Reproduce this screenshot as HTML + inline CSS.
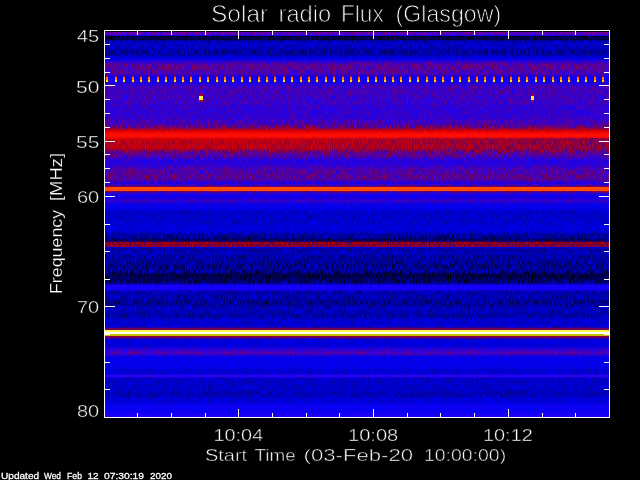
<!DOCTYPE html><html><head><meta charset="utf-8"><title>Solar radio Flux (Glasgow)</title>
<style>html,body{margin:0;padding:0;background:#000;}body{width:640px;height:480px;overflow:hidden;}svg{display:block;will-change:transform}text{font-family:"Liberation Sans",sans-serif;fill:#fff;stroke:#000;stroke-width:0.5px}text.s{stroke:#fff;stroke-width:0.3px}text.t{stroke-width:0.85px}text.y{stroke-width:0.2px}text.k{stroke-width:0.4px}</style></head><body>
<svg width="640" height="480" viewBox="0 0 640 480">
<defs><clipPath id="cp"><rect x="105" y="31" width="504" height="386"/></clipPath>
<filter id="vb" x="-5%" y="-5%" width="110%" height="110%" color-interpolation-filters="sRGB"><feGaussianBlur stdDeviation="0 0.8"/></filter>
<filter id="nz" x="0" y="0" width="100%" height="100%" color-interpolation-filters="sRGB"><feTurbulence type="fractalNoise" baseFrequency="0.95 0.2" numOctaves="1" seed="11"/><feColorMatrix type="matrix" values="1.1 0 0 0 -0.07  0.5 0 0 0 0.25  -1.5 0 0 0 1.22  0 0 0 0 1"/></filter>
<linearGradient id="hg" x1="0" y1="0" x2="1" y2="0"><stop offset="0.3" stop-color="rgb(115,0,95)" stop-opacity="0"/><stop offset="1" stop-color="rgb(115,0,95)" stop-opacity="0.66"/></linearGradient>
</defs>
<rect width="640" height="480" fill="#000"/>
<g shape-rendering="crispEdges">
<g clip-path="url(#cp)">
<g filter="url(#vb)">
<rect x="90" y="20" width="534" height="12" fill="rgb(100,0,175)"/>
<rect x="90" y="31" width="534" height="1" fill="rgb(0,0,0)"/>
<rect x="90" y="32" width="534" height="3" fill="rgb(96,0,182)"/>
<rect x="90" y="35" width="534" height="1" fill="rgb(10,0,230)"/>
<rect x="90" y="36" width="534" height="4" fill="rgb(0,0,72)"/>
<rect x="90" y="40" width="534" height="9" fill="rgb(0,0,198)"/>
<rect x="90" y="49" width="534" height="7" fill="rgb(0,0,164)"/>
<rect x="90" y="56" width="534" height="4" fill="rgb(0,0,230)"/>
<rect x="90" y="60" width="534" height="2" fill="rgb(35,0,222)"/>
<rect x="90" y="62" width="534" height="2" fill="rgb(75,0,185)"/>
<rect x="90" y="64" width="534" height="6" fill="rgb(90,0,160)"/>
<rect x="90" y="70" width="534" height="5" fill="rgb(80,0,176)"/>
<rect x="90" y="75" width="534" height="8" fill="rgb(18,0,240)"/>
<rect x="90" y="83" width="534" height="2" fill="rgb(30,0,230)"/>
<rect x="90" y="85" width="534" height="10" fill="rgb(66,0,192)"/>
<rect x="90" y="95" width="534" height="10" fill="rgb(60,0,200)"/>
<rect x="90" y="105" width="534" height="14" fill="rgb(50,0,212)"/>
<rect x="90" y="119" width="534" height="5" fill="rgb(65,0,196)"/>
<rect x="90" y="124" width="534" height="3" fill="rgb(90,0,150)"/>
<rect x="90" y="127" width="534" height="2" fill="rgb(120,0,110)"/>
<rect x="90" y="129" width="534" height="2" fill="rgb(200,0,10)"/>
<rect x="90" y="131" width="534" height="2" fill="rgb(235,0,0)"/>
<rect x="90" y="133" width="534" height="5" fill="rgb(255,14,4)"/>
<rect x="90" y="138" width="534" height="4" fill="rgb(198,0,12)"/>
<rect x="90" y="142" width="534" height="3" fill="rgb(184,0,30)"/>
<rect x="90" y="145" width="534" height="4" fill="rgb(194,0,18)"/>
<rect x="90" y="149" width="534" height="2" fill="rgb(150,0,66)"/>
<rect x="90" y="151" width="534" height="3" fill="rgb(100,0,142)"/>
<rect x="90" y="154" width="534" height="4" fill="rgb(84,0,168)"/>
<rect x="90" y="158" width="534" height="7" fill="rgb(40,0,222)"/>
<rect x="90" y="165" width="534" height="3" fill="rgb(56,0,204)"/>
<rect x="90" y="168" width="534" height="6" fill="rgb(78,0,175)"/>
<rect x="90" y="174" width="534" height="7" fill="rgb(88,0,158)"/>
<rect x="90" y="181" width="534" height="4" fill="rgb(32,0,230)"/>
<rect x="90" y="185" width="534" height="1" fill="rgb(70,0,175)"/>
<rect x="90" y="186" width="534" height="1" fill="rgb(115,0,112)"/>
<rect x="90" y="187" width="534" height="4" fill="rgb(255,75,5)"/>
<rect x="90" y="191" width="534" height="1" fill="rgb(118,0,105)"/>
<rect x="90" y="192" width="534" height="1" fill="rgb(70,0,178)"/>
<rect x="90" y="193" width="534" height="6" fill="rgb(18,0,236)"/>
<rect x="90" y="199" width="534" height="4" fill="rgb(50,0,204)"/>
<rect x="90" y="203" width="534" height="7" fill="rgb(5,0,234)"/>
<rect x="90" y="210" width="534" height="14" fill="rgb(0,0,206)"/>
<rect x="90" y="224" width="534" height="9" fill="rgb(0,0,220)"/>
<rect x="90" y="233" width="534" height="5" fill="rgb(0,0,162)"/>
<rect x="90" y="238" width="534" height="4" fill="rgb(0,0,112)"/>
<rect x="90" y="242" width="534" height="3" fill="rgb(140,0,40)"/>
<rect x="90" y="245" width="534" height="2" fill="rgb(132,0,58)"/>
<rect x="90" y="247" width="534" height="1" fill="rgb(10,0,222)"/>
<rect x="90" y="248" width="534" height="3" fill="rgb(0,0,165)"/>
<rect x="90" y="251" width="534" height="4" fill="rgb(0,0,192)"/>
<rect x="90" y="255" width="534" height="8" fill="rgb(0,0,165)"/>
<rect x="90" y="263" width="534" height="5" fill="rgb(0,0,140)"/>
<rect x="90" y="268" width="534" height="5" fill="rgb(0,0,155)"/>
<rect x="90" y="273" width="534" height="5" fill="rgb(0,0,74)"/>
<rect x="90" y="278" width="534" height="5" fill="rgb(0,0,100)"/>
<rect x="90" y="283" width="534" height="2" fill="rgb(0,0,175)"/>
<rect x="90" y="285" width="534" height="5" fill="rgb(22,0,250)"/>
<rect x="90" y="290" width="534" height="10" fill="rgb(0,0,180)"/>
<rect x="90" y="300" width="534" height="6" fill="rgb(0,0,150)"/>
<rect x="90" y="306" width="534" height="7" fill="rgb(0,0,190)"/>
<rect x="90" y="313" width="534" height="5" fill="rgb(0,0,168)"/>
<rect x="90" y="318" width="534" height="10" fill="rgb(0,0,212)"/>
<rect x="90" y="328" width="534" height="2" fill="rgb(112,0,88)"/>
<rect x="90" y="330" width="534" height="2" fill="rgb(255,255,80)"/>
<rect x="90" y="332" width="534" height="2" fill="rgb(255,255,255)"/>
<rect x="90" y="334" width="534" height="2" fill="rgb(200,190,0)"/>
<rect x="90" y="336" width="534" height="2" fill="rgb(122,0,76)"/>
<rect x="90" y="338" width="534" height="10" fill="rgb(0,0,222)"/>
<rect x="90" y="348" width="534" height="4" fill="rgb(50,0,212)"/>
<rect x="90" y="352" width="534" height="3" fill="rgb(90,0,175)"/>
<rect x="90" y="355" width="534" height="13" fill="rgb(4,0,236)"/>
<rect x="90" y="368" width="534" height="7" fill="rgb(0,0,214)"/>
<rect x="90" y="375" width="534" height="2" fill="rgb(45,0,240)"/>
<rect x="90" y="377" width="534" height="15" fill="rgb(0,0,204)"/>
<rect x="90" y="392" width="534" height="5" fill="rgb(0,0,184)"/>
<rect x="90" y="397" width="534" height="7" fill="rgb(0,0,218)"/>
<rect x="90" y="404" width="534" height="9" fill="rgb(10,0,244)"/>
<rect x="90" y="413" width="534" height="4" fill="rgb(28,0,246)"/>
<rect x="90" y="417" width="534" height="12" fill="rgb(28,0,246)"/>
</g>
<rect x="105" y="31" width="504" height="1" fill="rgb(0,0,0)"/>
<rect x="105" y="32" width="504" height="3" fill="rgb(96,0,182)"/>
<rect x="105" y="35" width="504" height="1" fill="rgb(10,0,230)"/>
<rect x="105" y="36" width="504" height="4" fill="rgb(0,0,72)"/>
<rect x="105" y="75" width="504" height="8" fill="rgb(18,0,240)"/>
<rect x="105" y="185" width="504" height="1" fill="rgb(70,0,175)"/>
<rect x="105" y="186" width="504" height="1" fill="rgb(115,0,112)"/>
<rect x="105" y="187" width="504" height="4" fill="rgb(255,75,5)"/>
<rect x="105" y="191" width="504" height="1" fill="rgb(118,0,105)"/>
<rect x="105" y="192" width="504" height="1" fill="rgb(70,0,178)"/>
<rect x="105" y="242" width="504" height="3" fill="rgb(140,0,40)"/>
<rect x="105" y="245" width="504" height="2" fill="rgb(132,0,58)"/>
<rect x="105" y="247" width="504" height="1" fill="rgb(10,0,222)"/>
<rect x="105" y="285" width="504" height="5" fill="rgb(22,0,250)"/>
<rect x="105" y="328" width="504" height="2" fill="rgb(112,0,88)"/>
<rect x="105" y="330" width="504" height="2" fill="rgb(255,255,80)"/>
<rect x="105" y="332" width="504" height="2" fill="rgb(255,255,255)"/>
<rect x="105" y="334" width="504" height="2" fill="rgb(200,190,0)"/>
<rect x="105" y="336" width="504" height="2" fill="rgb(122,0,76)"/>
<rect x="105" y="375" width="504" height="2" fill="rgb(45,0,240)"/>
<rect x="105" y="138" width="504" height="13" fill="url(#hg)"/>
<rect x="105" y="32" width="504" height="385" filter="url(#nz)" style="mix-blend-mode:overlay"/>
<rect x="105" y="187" width="504" height="4" fill="rgb(255,75,5)"/>
<rect x="105" y="328" width="504" height="2" fill="rgb(112,0,88)"/>
<rect x="105" y="330" width="504" height="2" fill="rgb(255,255,80)"/>
<rect x="105" y="332" width="504" height="2" fill="rgb(255,255,255)"/>
<rect x="105" y="334" width="504" height="2" fill="rgb(200,190,0)"/>
<rect x="105" y="336" width="504" height="2" fill="rgb(122,0,76)"/>
</g>
<rect x="106" y="75" width="2" height="2" fill="rgb(150,0,30)"/>
<rect x="106" y="77" width="2" height="3" fill="rgb(255,120,0)"/>
<rect x="106" y="80" width="2" height="2" fill="rgb(240,230,0)"/>
<rect x="106" y="82" width="2" height="1" fill="rgb(130,0,60)"/>
<rect x="108" y="80" width="1" height="2" fill="rgb(95,0,140)"/>
<rect x="115" y="75" width="2" height="2" fill="rgb(150,0,30)"/>
<rect x="115" y="77" width="2" height="3" fill="rgb(255,120,0)"/>
<rect x="115" y="80" width="2" height="2" fill="rgb(240,230,0)"/>
<rect x="115" y="82" width="2" height="1" fill="rgb(130,0,60)"/>
<rect x="117" y="80" width="1" height="2" fill="rgb(95,0,140)"/>
<rect x="123" y="75" width="2" height="2" fill="rgb(150,0,30)"/>
<rect x="123" y="77" width="2" height="3" fill="rgb(255,120,0)"/>
<rect x="123" y="80" width="2" height="2" fill="rgb(240,230,0)"/>
<rect x="123" y="82" width="2" height="1" fill="rgb(130,0,60)"/>
<rect x="125" y="80" width="1" height="2" fill="rgb(95,0,140)"/>
<rect x="132" y="75" width="2" height="2" fill="rgb(150,0,30)"/>
<rect x="132" y="77" width="2" height="3" fill="rgb(255,120,0)"/>
<rect x="132" y="80" width="2" height="2" fill="rgb(240,230,0)"/>
<rect x="132" y="82" width="2" height="1" fill="rgb(130,0,60)"/>
<rect x="134" y="80" width="1" height="2" fill="rgb(95,0,140)"/>
<rect x="140" y="75" width="2" height="2" fill="rgb(150,0,30)"/>
<rect x="140" y="77" width="2" height="3" fill="rgb(255,120,0)"/>
<rect x="140" y="80" width="2" height="2" fill="rgb(240,230,0)"/>
<rect x="140" y="82" width="2" height="1" fill="rgb(130,0,60)"/>
<rect x="142" y="80" width="1" height="2" fill="rgb(95,0,140)"/>
<rect x="148" y="75" width="2" height="2" fill="rgb(150,0,30)"/>
<rect x="148" y="77" width="2" height="3" fill="rgb(255,120,0)"/>
<rect x="148" y="80" width="2" height="2" fill="rgb(240,230,0)"/>
<rect x="148" y="82" width="2" height="1" fill="rgb(130,0,60)"/>
<rect x="150" y="80" width="1" height="2" fill="rgb(95,0,140)"/>
<rect x="157" y="75" width="2" height="2" fill="rgb(150,0,30)"/>
<rect x="157" y="77" width="2" height="3" fill="rgb(255,120,0)"/>
<rect x="157" y="80" width="2" height="2" fill="rgb(240,230,0)"/>
<rect x="157" y="82" width="2" height="1" fill="rgb(130,0,60)"/>
<rect x="159" y="80" width="1" height="2" fill="rgb(95,0,140)"/>
<rect x="165" y="75" width="2" height="2" fill="rgb(150,0,30)"/>
<rect x="165" y="77" width="2" height="3" fill="rgb(255,120,0)"/>
<rect x="165" y="80" width="2" height="2" fill="rgb(240,230,0)"/>
<rect x="165" y="82" width="2" height="1" fill="rgb(130,0,60)"/>
<rect x="167" y="80" width="1" height="2" fill="rgb(95,0,140)"/>
<rect x="174" y="75" width="2" height="2" fill="rgb(150,0,30)"/>
<rect x="174" y="77" width="2" height="3" fill="rgb(255,120,0)"/>
<rect x="174" y="80" width="2" height="2" fill="rgb(240,230,0)"/>
<rect x="174" y="82" width="2" height="1" fill="rgb(130,0,60)"/>
<rect x="176" y="80" width="1" height="2" fill="rgb(95,0,140)"/>
<rect x="182" y="75" width="2" height="2" fill="rgb(150,0,30)"/>
<rect x="182" y="77" width="2" height="3" fill="rgb(255,120,0)"/>
<rect x="182" y="80" width="2" height="2" fill="rgb(240,230,0)"/>
<rect x="182" y="82" width="2" height="1" fill="rgb(130,0,60)"/>
<rect x="184" y="80" width="1" height="2" fill="rgb(95,0,140)"/>
<rect x="190" y="75" width="2" height="2" fill="rgb(150,0,30)"/>
<rect x="190" y="77" width="2" height="3" fill="rgb(255,120,0)"/>
<rect x="190" y="80" width="2" height="2" fill="rgb(240,230,0)"/>
<rect x="190" y="82" width="2" height="1" fill="rgb(130,0,60)"/>
<rect x="192" y="80" width="1" height="2" fill="rgb(95,0,140)"/>
<rect x="199" y="75" width="2" height="2" fill="rgb(150,0,30)"/>
<rect x="199" y="77" width="2" height="3" fill="rgb(255,120,0)"/>
<rect x="199" y="80" width="2" height="2" fill="rgb(240,230,0)"/>
<rect x="199" y="82" width="2" height="1" fill="rgb(130,0,60)"/>
<rect x="201" y="80" width="1" height="2" fill="rgb(95,0,140)"/>
<rect x="207" y="75" width="2" height="2" fill="rgb(150,0,30)"/>
<rect x="207" y="77" width="2" height="3" fill="rgb(255,120,0)"/>
<rect x="207" y="80" width="2" height="2" fill="rgb(240,230,0)"/>
<rect x="207" y="82" width="2" height="1" fill="rgb(130,0,60)"/>
<rect x="209" y="80" width="1" height="2" fill="rgb(95,0,140)"/>
<rect x="216" y="75" width="2" height="2" fill="rgb(150,0,30)"/>
<rect x="216" y="77" width="2" height="3" fill="rgb(255,120,0)"/>
<rect x="216" y="80" width="2" height="2" fill="rgb(240,230,0)"/>
<rect x="216" y="82" width="2" height="1" fill="rgb(130,0,60)"/>
<rect x="218" y="80" width="1" height="2" fill="rgb(95,0,140)"/>
<rect x="224" y="75" width="2" height="2" fill="rgb(150,0,30)"/>
<rect x="224" y="77" width="2" height="3" fill="rgb(255,120,0)"/>
<rect x="224" y="80" width="2" height="2" fill="rgb(240,230,0)"/>
<rect x="224" y="82" width="2" height="1" fill="rgb(130,0,60)"/>
<rect x="226" y="80" width="1" height="2" fill="rgb(95,0,140)"/>
<rect x="232" y="75" width="2" height="2" fill="rgb(150,0,30)"/>
<rect x="232" y="77" width="2" height="3" fill="rgb(255,120,0)"/>
<rect x="232" y="80" width="2" height="2" fill="rgb(240,230,0)"/>
<rect x="232" y="82" width="2" height="1" fill="rgb(130,0,60)"/>
<rect x="234" y="80" width="1" height="2" fill="rgb(95,0,140)"/>
<rect x="241" y="75" width="2" height="2" fill="rgb(150,0,30)"/>
<rect x="241" y="77" width="2" height="3" fill="rgb(255,120,0)"/>
<rect x="241" y="80" width="2" height="2" fill="rgb(240,230,0)"/>
<rect x="241" y="82" width="2" height="1" fill="rgb(130,0,60)"/>
<rect x="243" y="80" width="1" height="2" fill="rgb(95,0,140)"/>
<rect x="249" y="75" width="2" height="2" fill="rgb(150,0,30)"/>
<rect x="249" y="77" width="2" height="3" fill="rgb(255,120,0)"/>
<rect x="249" y="80" width="2" height="2" fill="rgb(240,230,0)"/>
<rect x="249" y="82" width="2" height="1" fill="rgb(130,0,60)"/>
<rect x="251" y="80" width="1" height="2" fill="rgb(95,0,140)"/>
<rect x="258" y="75" width="2" height="2" fill="rgb(150,0,30)"/>
<rect x="258" y="77" width="2" height="3" fill="rgb(255,120,0)"/>
<rect x="258" y="80" width="2" height="2" fill="rgb(240,230,0)"/>
<rect x="258" y="82" width="2" height="1" fill="rgb(130,0,60)"/>
<rect x="260" y="80" width="1" height="2" fill="rgb(95,0,140)"/>
<rect x="266" y="75" width="2" height="2" fill="rgb(150,0,30)"/>
<rect x="266" y="77" width="2" height="3" fill="rgb(255,120,0)"/>
<rect x="266" y="80" width="2" height="2" fill="rgb(240,230,0)"/>
<rect x="266" y="82" width="2" height="1" fill="rgb(130,0,60)"/>
<rect x="268" y="80" width="1" height="2" fill="rgb(95,0,140)"/>
<rect x="274" y="75" width="2" height="2" fill="rgb(150,0,30)"/>
<rect x="274" y="77" width="2" height="3" fill="rgb(255,120,0)"/>
<rect x="274" y="80" width="2" height="2" fill="rgb(240,230,0)"/>
<rect x="274" y="82" width="2" height="1" fill="rgb(130,0,60)"/>
<rect x="276" y="80" width="1" height="2" fill="rgb(95,0,140)"/>
<rect x="283" y="75" width="2" height="2" fill="rgb(150,0,30)"/>
<rect x="283" y="77" width="2" height="3" fill="rgb(255,120,0)"/>
<rect x="283" y="80" width="2" height="2" fill="rgb(240,230,0)"/>
<rect x="283" y="82" width="2" height="1" fill="rgb(130,0,60)"/>
<rect x="285" y="80" width="1" height="2" fill="rgb(95,0,140)"/>
<rect x="291" y="75" width="2" height="2" fill="rgb(150,0,30)"/>
<rect x="291" y="77" width="2" height="3" fill="rgb(255,120,0)"/>
<rect x="291" y="80" width="2" height="2" fill="rgb(240,230,0)"/>
<rect x="291" y="82" width="2" height="1" fill="rgb(130,0,60)"/>
<rect x="293" y="80" width="1" height="2" fill="rgb(95,0,140)"/>
<rect x="300" y="75" width="2" height="2" fill="rgb(150,0,30)"/>
<rect x="300" y="77" width="2" height="3" fill="rgb(255,120,0)"/>
<rect x="300" y="80" width="2" height="2" fill="rgb(240,230,0)"/>
<rect x="300" y="82" width="2" height="1" fill="rgb(130,0,60)"/>
<rect x="302" y="80" width="1" height="2" fill="rgb(95,0,140)"/>
<rect x="308" y="75" width="2" height="2" fill="rgb(150,0,30)"/>
<rect x="308" y="77" width="2" height="3" fill="rgb(255,120,0)"/>
<rect x="308" y="80" width="2" height="2" fill="rgb(240,230,0)"/>
<rect x="308" y="82" width="2" height="1" fill="rgb(130,0,60)"/>
<rect x="310" y="80" width="1" height="2" fill="rgb(95,0,140)"/>
<rect x="316" y="75" width="2" height="2" fill="rgb(150,0,30)"/>
<rect x="316" y="77" width="2" height="3" fill="rgb(255,120,0)"/>
<rect x="316" y="80" width="2" height="2" fill="rgb(240,230,0)"/>
<rect x="316" y="82" width="2" height="1" fill="rgb(130,0,60)"/>
<rect x="318" y="80" width="1" height="2" fill="rgb(95,0,140)"/>
<rect x="325" y="75" width="2" height="2" fill="rgb(150,0,30)"/>
<rect x="325" y="77" width="2" height="3" fill="rgb(255,120,0)"/>
<rect x="325" y="80" width="2" height="2" fill="rgb(240,230,0)"/>
<rect x="325" y="82" width="2" height="1" fill="rgb(130,0,60)"/>
<rect x="327" y="80" width="1" height="2" fill="rgb(95,0,140)"/>
<rect x="333" y="75" width="2" height="2" fill="rgb(150,0,30)"/>
<rect x="333" y="77" width="2" height="3" fill="rgb(255,120,0)"/>
<rect x="333" y="80" width="2" height="2" fill="rgb(240,230,0)"/>
<rect x="333" y="82" width="2" height="1" fill="rgb(130,0,60)"/>
<rect x="335" y="80" width="1" height="2" fill="rgb(95,0,140)"/>
<rect x="342" y="75" width="2" height="2" fill="rgb(150,0,30)"/>
<rect x="342" y="77" width="2" height="3" fill="rgb(255,120,0)"/>
<rect x="342" y="80" width="2" height="2" fill="rgb(240,230,0)"/>
<rect x="342" y="82" width="2" height="1" fill="rgb(130,0,60)"/>
<rect x="344" y="80" width="1" height="2" fill="rgb(95,0,140)"/>
<rect x="350" y="75" width="2" height="2" fill="rgb(150,0,30)"/>
<rect x="350" y="77" width="2" height="3" fill="rgb(255,120,0)"/>
<rect x="350" y="80" width="2" height="2" fill="rgb(240,230,0)"/>
<rect x="350" y="82" width="2" height="1" fill="rgb(130,0,60)"/>
<rect x="352" y="80" width="1" height="2" fill="rgb(95,0,140)"/>
<rect x="358" y="75" width="2" height="2" fill="rgb(150,0,30)"/>
<rect x="358" y="77" width="2" height="3" fill="rgb(255,120,0)"/>
<rect x="358" y="80" width="2" height="2" fill="rgb(240,230,0)"/>
<rect x="358" y="82" width="2" height="1" fill="rgb(130,0,60)"/>
<rect x="360" y="80" width="1" height="2" fill="rgb(95,0,140)"/>
<rect x="367" y="75" width="2" height="2" fill="rgb(150,0,30)"/>
<rect x="367" y="77" width="2" height="3" fill="rgb(255,120,0)"/>
<rect x="367" y="80" width="2" height="2" fill="rgb(240,230,0)"/>
<rect x="367" y="82" width="2" height="1" fill="rgb(130,0,60)"/>
<rect x="369" y="80" width="1" height="2" fill="rgb(95,0,140)"/>
<rect x="375" y="75" width="2" height="2" fill="rgb(150,0,30)"/>
<rect x="375" y="77" width="2" height="3" fill="rgb(255,120,0)"/>
<rect x="375" y="80" width="2" height="2" fill="rgb(240,230,0)"/>
<rect x="375" y="82" width="2" height="1" fill="rgb(130,0,60)"/>
<rect x="377" y="80" width="1" height="2" fill="rgb(95,0,140)"/>
<rect x="384" y="75" width="2" height="2" fill="rgb(150,0,30)"/>
<rect x="384" y="77" width="2" height="3" fill="rgb(255,120,0)"/>
<rect x="384" y="80" width="2" height="2" fill="rgb(240,230,0)"/>
<rect x="384" y="82" width="2" height="1" fill="rgb(130,0,60)"/>
<rect x="386" y="80" width="1" height="2" fill="rgb(95,0,140)"/>
<rect x="392" y="75" width="2" height="2" fill="rgb(150,0,30)"/>
<rect x="392" y="77" width="2" height="3" fill="rgb(255,120,0)"/>
<rect x="392" y="80" width="2" height="2" fill="rgb(240,230,0)"/>
<rect x="392" y="82" width="2" height="1" fill="rgb(130,0,60)"/>
<rect x="394" y="80" width="1" height="2" fill="rgb(95,0,140)"/>
<rect x="400" y="75" width="2" height="2" fill="rgb(150,0,30)"/>
<rect x="400" y="77" width="2" height="3" fill="rgb(255,120,0)"/>
<rect x="400" y="80" width="2" height="2" fill="rgb(240,230,0)"/>
<rect x="400" y="82" width="2" height="1" fill="rgb(130,0,60)"/>
<rect x="402" y="80" width="1" height="2" fill="rgb(95,0,140)"/>
<rect x="409" y="75" width="2" height="2" fill="rgb(150,0,30)"/>
<rect x="409" y="77" width="2" height="3" fill="rgb(255,120,0)"/>
<rect x="409" y="80" width="2" height="2" fill="rgb(240,230,0)"/>
<rect x="409" y="82" width="2" height="1" fill="rgb(130,0,60)"/>
<rect x="411" y="80" width="1" height="2" fill="rgb(95,0,140)"/>
<rect x="417" y="75" width="2" height="2" fill="rgb(150,0,30)"/>
<rect x="417" y="77" width="2" height="3" fill="rgb(255,120,0)"/>
<rect x="417" y="80" width="2" height="2" fill="rgb(240,230,0)"/>
<rect x="417" y="82" width="2" height="1" fill="rgb(130,0,60)"/>
<rect x="419" y="80" width="1" height="2" fill="rgb(95,0,140)"/>
<rect x="426" y="75" width="2" height="2" fill="rgb(150,0,30)"/>
<rect x="426" y="77" width="2" height="3" fill="rgb(255,120,0)"/>
<rect x="426" y="80" width="2" height="2" fill="rgb(240,230,0)"/>
<rect x="426" y="82" width="2" height="1" fill="rgb(130,0,60)"/>
<rect x="428" y="80" width="1" height="2" fill="rgb(95,0,140)"/>
<rect x="434" y="75" width="2" height="2" fill="rgb(150,0,30)"/>
<rect x="434" y="77" width="2" height="3" fill="rgb(255,120,0)"/>
<rect x="434" y="80" width="2" height="2" fill="rgb(240,230,0)"/>
<rect x="434" y="82" width="2" height="1" fill="rgb(130,0,60)"/>
<rect x="436" y="80" width="1" height="2" fill="rgb(95,0,140)"/>
<rect x="442" y="75" width="2" height="2" fill="rgb(150,0,30)"/>
<rect x="442" y="77" width="2" height="3" fill="rgb(255,120,0)"/>
<rect x="442" y="80" width="2" height="2" fill="rgb(240,230,0)"/>
<rect x="442" y="82" width="2" height="1" fill="rgb(130,0,60)"/>
<rect x="444" y="80" width="1" height="2" fill="rgb(95,0,140)"/>
<rect x="451" y="75" width="2" height="2" fill="rgb(150,0,30)"/>
<rect x="451" y="77" width="2" height="3" fill="rgb(255,120,0)"/>
<rect x="451" y="80" width="2" height="2" fill="rgb(240,230,0)"/>
<rect x="451" y="82" width="2" height="1" fill="rgb(130,0,60)"/>
<rect x="453" y="80" width="1" height="2" fill="rgb(95,0,140)"/>
<rect x="459" y="75" width="2" height="2" fill="rgb(150,0,30)"/>
<rect x="459" y="77" width="2" height="3" fill="rgb(255,120,0)"/>
<rect x="459" y="80" width="2" height="2" fill="rgb(240,230,0)"/>
<rect x="459" y="82" width="2" height="1" fill="rgb(130,0,60)"/>
<rect x="461" y="80" width="1" height="2" fill="rgb(95,0,140)"/>
<rect x="468" y="75" width="2" height="2" fill="rgb(150,0,30)"/>
<rect x="468" y="77" width="2" height="3" fill="rgb(255,120,0)"/>
<rect x="468" y="80" width="2" height="2" fill="rgb(240,230,0)"/>
<rect x="468" y="82" width="2" height="1" fill="rgb(130,0,60)"/>
<rect x="470" y="80" width="1" height="2" fill="rgb(95,0,140)"/>
<rect x="476" y="75" width="2" height="2" fill="rgb(150,0,30)"/>
<rect x="476" y="77" width="2" height="3" fill="rgb(255,120,0)"/>
<rect x="476" y="80" width="2" height="2" fill="rgb(240,230,0)"/>
<rect x="476" y="82" width="2" height="1" fill="rgb(130,0,60)"/>
<rect x="478" y="80" width="1" height="2" fill="rgb(95,0,140)"/>
<rect x="484" y="75" width="2" height="2" fill="rgb(150,0,30)"/>
<rect x="484" y="77" width="2" height="3" fill="rgb(255,120,0)"/>
<rect x="484" y="80" width="2" height="2" fill="rgb(240,230,0)"/>
<rect x="484" y="82" width="2" height="1" fill="rgb(130,0,60)"/>
<rect x="486" y="80" width="1" height="2" fill="rgb(95,0,140)"/>
<rect x="493" y="75" width="2" height="2" fill="rgb(150,0,30)"/>
<rect x="493" y="77" width="2" height="3" fill="rgb(255,120,0)"/>
<rect x="493" y="80" width="2" height="2" fill="rgb(240,230,0)"/>
<rect x="493" y="82" width="2" height="1" fill="rgb(130,0,60)"/>
<rect x="495" y="80" width="1" height="2" fill="rgb(95,0,140)"/>
<rect x="501" y="75" width="2" height="2" fill="rgb(150,0,30)"/>
<rect x="501" y="77" width="2" height="3" fill="rgb(255,120,0)"/>
<rect x="501" y="80" width="2" height="2" fill="rgb(240,230,0)"/>
<rect x="501" y="82" width="2" height="1" fill="rgb(130,0,60)"/>
<rect x="503" y="80" width="1" height="2" fill="rgb(95,0,140)"/>
<rect x="510" y="75" width="2" height="2" fill="rgb(150,0,30)"/>
<rect x="510" y="77" width="2" height="3" fill="rgb(255,120,0)"/>
<rect x="510" y="80" width="2" height="2" fill="rgb(240,230,0)"/>
<rect x="510" y="82" width="2" height="1" fill="rgb(130,0,60)"/>
<rect x="512" y="80" width="1" height="2" fill="rgb(95,0,140)"/>
<rect x="518" y="75" width="2" height="2" fill="rgb(150,0,30)"/>
<rect x="518" y="77" width="2" height="3" fill="rgb(255,120,0)"/>
<rect x="518" y="80" width="2" height="2" fill="rgb(240,230,0)"/>
<rect x="518" y="82" width="2" height="1" fill="rgb(130,0,60)"/>
<rect x="520" y="80" width="1" height="2" fill="rgb(95,0,140)"/>
<rect x="526" y="75" width="2" height="2" fill="rgb(150,0,30)"/>
<rect x="526" y="77" width="2" height="3" fill="rgb(255,120,0)"/>
<rect x="526" y="80" width="2" height="2" fill="rgb(240,230,0)"/>
<rect x="526" y="82" width="2" height="1" fill="rgb(130,0,60)"/>
<rect x="528" y="80" width="1" height="2" fill="rgb(95,0,140)"/>
<rect x="535" y="75" width="2" height="2" fill="rgb(150,0,30)"/>
<rect x="535" y="77" width="2" height="3" fill="rgb(255,120,0)"/>
<rect x="535" y="80" width="2" height="2" fill="rgb(240,230,0)"/>
<rect x="535" y="82" width="2" height="1" fill="rgb(130,0,60)"/>
<rect x="537" y="80" width="1" height="2" fill="rgb(95,0,140)"/>
<rect x="543" y="75" width="2" height="2" fill="rgb(150,0,30)"/>
<rect x="543" y="77" width="2" height="3" fill="rgb(255,120,0)"/>
<rect x="543" y="80" width="2" height="2" fill="rgb(240,230,0)"/>
<rect x="543" y="82" width="2" height="1" fill="rgb(130,0,60)"/>
<rect x="545" y="80" width="1" height="2" fill="rgb(95,0,140)"/>
<rect x="552" y="75" width="2" height="2" fill="rgb(150,0,30)"/>
<rect x="552" y="77" width="2" height="3" fill="rgb(255,120,0)"/>
<rect x="552" y="80" width="2" height="2" fill="rgb(240,230,0)"/>
<rect x="552" y="82" width="2" height="1" fill="rgb(130,0,60)"/>
<rect x="554" y="80" width="1" height="2" fill="rgb(95,0,140)"/>
<rect x="560" y="75" width="2" height="2" fill="rgb(150,0,30)"/>
<rect x="560" y="77" width="2" height="3" fill="rgb(255,120,0)"/>
<rect x="560" y="80" width="2" height="2" fill="rgb(240,230,0)"/>
<rect x="560" y="82" width="2" height="1" fill="rgb(130,0,60)"/>
<rect x="562" y="80" width="1" height="2" fill="rgb(95,0,140)"/>
<rect x="568" y="75" width="2" height="2" fill="rgb(150,0,30)"/>
<rect x="568" y="77" width="2" height="3" fill="rgb(255,120,0)"/>
<rect x="568" y="80" width="2" height="2" fill="rgb(240,230,0)"/>
<rect x="568" y="82" width="2" height="1" fill="rgb(130,0,60)"/>
<rect x="570" y="80" width="1" height="2" fill="rgb(95,0,140)"/>
<rect x="577" y="75" width="2" height="2" fill="rgb(150,0,30)"/>
<rect x="577" y="77" width="2" height="3" fill="rgb(255,120,0)"/>
<rect x="577" y="80" width="2" height="2" fill="rgb(240,230,0)"/>
<rect x="577" y="82" width="2" height="1" fill="rgb(130,0,60)"/>
<rect x="579" y="80" width="1" height="2" fill="rgb(95,0,140)"/>
<rect x="585" y="75" width="2" height="2" fill="rgb(150,0,30)"/>
<rect x="585" y="77" width="2" height="3" fill="rgb(255,120,0)"/>
<rect x="585" y="80" width="2" height="2" fill="rgb(240,230,0)"/>
<rect x="585" y="82" width="2" height="1" fill="rgb(130,0,60)"/>
<rect x="587" y="80" width="1" height="2" fill="rgb(95,0,140)"/>
<rect x="594" y="75" width="2" height="2" fill="rgb(150,0,30)"/>
<rect x="594" y="77" width="2" height="3" fill="rgb(255,120,0)"/>
<rect x="594" y="80" width="2" height="2" fill="rgb(240,230,0)"/>
<rect x="594" y="82" width="2" height="1" fill="rgb(130,0,60)"/>
<rect x="596" y="80" width="1" height="2" fill="rgb(95,0,140)"/>
<rect x="602" y="75" width="2" height="2" fill="rgb(150,0,30)"/>
<rect x="602" y="77" width="2" height="3" fill="rgb(255,120,0)"/>
<rect x="602" y="80" width="2" height="2" fill="rgb(240,230,0)"/>
<rect x="602" y="82" width="2" height="1" fill="rgb(130,0,60)"/>
<rect x="604" y="80" width="1" height="2" fill="rgb(95,0,140)"/>
<rect x="199" y="94" width="4" height="2" fill="rgb(185,0,15)"/>
<rect x="199" y="96" width="4" height="4" fill="rgb(246,240,50)"/>
<rect x="199" y="100" width="4" height="2" fill="rgb(185,0,15)"/>
<rect x="531" y="94" width="3" height="2" fill="rgb(185,0,15)"/>
<rect x="531" y="96" width="3" height="4" fill="rgb(246,240,50)"/>
<rect x="531" y="100" width="3" height="2" fill="rgb(185,0,15)"/>
<g fill="#fff">
<rect x="104" y="30" width="506" height="1"/>
<rect x="104" y="417" width="506" height="1"/>
<rect x="104" y="30" width="1" height="388"/>
<rect x="609" y="30" width="1" height="388"/>
<rect x="137" y="31" width="1" height="4"/>
<rect x="137" y="413" width="1" height="4"/>
<rect x="171" y="31" width="1" height="4"/>
<rect x="171" y="413" width="1" height="4"/>
<rect x="205" y="31" width="1" height="4"/>
<rect x="205" y="413" width="1" height="4"/>
<rect x="238" y="31" width="1" height="8"/>
<rect x="238" y="409" width="1" height="8"/>
<rect x="272" y="31" width="1" height="4"/>
<rect x="272" y="413" width="1" height="4"/>
<rect x="306" y="31" width="1" height="4"/>
<rect x="306" y="413" width="1" height="4"/>
<rect x="339" y="31" width="1" height="4"/>
<rect x="339" y="413" width="1" height="4"/>
<rect x="373" y="31" width="1" height="8"/>
<rect x="373" y="409" width="1" height="8"/>
<rect x="407" y="31" width="1" height="4"/>
<rect x="407" y="413" width="1" height="4"/>
<rect x="440" y="31" width="1" height="4"/>
<rect x="440" y="413" width="1" height="4"/>
<rect x="474" y="31" width="1" height="4"/>
<rect x="474" y="413" width="1" height="4"/>
<rect x="508" y="31" width="1" height="8"/>
<rect x="508" y="409" width="1" height="8"/>
<rect x="542" y="31" width="1" height="4"/>
<rect x="542" y="413" width="1" height="4"/>
<rect x="575" y="31" width="1" height="4"/>
<rect x="575" y="413" width="1" height="4"/>
<rect x="105" y="44" width="5" height="1"/>
<rect x="604" y="44" width="5" height="1"/>
<rect x="105" y="58" width="5" height="1"/>
<rect x="604" y="58" width="5" height="1"/>
<rect x="105" y="72" width="5" height="1"/>
<rect x="604" y="72" width="5" height="1"/>
<rect x="105" y="85" width="5" height="1"/>
<rect x="604" y="85" width="5" height="1"/>
<rect x="105" y="85" width="10" height="1"/>
<rect x="599" y="85" width="10" height="1"/>
<rect x="105" y="99" width="5" height="1"/>
<rect x="604" y="99" width="5" height="1"/>
<rect x="105" y="113" width="5" height="1"/>
<rect x="604" y="113" width="5" height="1"/>
<rect x="105" y="127" width="5" height="1"/>
<rect x="604" y="127" width="5" height="1"/>
<rect x="105" y="141" width="5" height="1"/>
<rect x="604" y="141" width="5" height="1"/>
<rect x="105" y="141" width="10" height="1"/>
<rect x="599" y="141" width="10" height="1"/>
<rect x="105" y="154" width="5" height="1"/>
<rect x="604" y="154" width="5" height="1"/>
<rect x="105" y="168" width="5" height="1"/>
<rect x="604" y="168" width="5" height="1"/>
<rect x="105" y="182" width="5" height="1"/>
<rect x="604" y="182" width="5" height="1"/>
<rect x="105" y="196" width="5" height="1"/>
<rect x="604" y="196" width="5" height="1"/>
<rect x="105" y="196" width="10" height="1"/>
<rect x="599" y="196" width="10" height="1"/>
<rect x="105" y="224" width="5" height="1"/>
<rect x="604" y="224" width="5" height="1"/>
<rect x="105" y="251" width="5" height="1"/>
<rect x="604" y="251" width="5" height="1"/>
<rect x="105" y="279" width="5" height="1"/>
<rect x="604" y="279" width="5" height="1"/>
<rect x="105" y="306" width="5" height="1"/>
<rect x="604" y="306" width="5" height="1"/>
<rect x="105" y="306" width="10" height="1"/>
<rect x="599" y="306" width="10" height="1"/>
<rect x="105" y="334" width="5" height="1"/>
<rect x="604" y="334" width="5" height="1"/>
<rect x="105" y="362" width="5" height="1"/>
<rect x="604" y="362" width="5" height="1"/>
<rect x="105" y="389" width="5" height="1"/>
<rect x="604" y="389" width="5" height="1"/>
</g></g>
<text y="21.5" font-size="23.2" class="t"><tspan x="211.0" textLength="57.18" lengthAdjust="spacingAndGlyphs">Solar</tspan> <tspan x="278.5" textLength="52.67" lengthAdjust="spacingAndGlyphs">radio</tspan> <tspan x="341.0" textLength="42.81" lengthAdjust="spacingAndGlyphs">Flux</tspan> <tspan x="395.5" textLength="105.65" lengthAdjust="spacingAndGlyphs">(Glasgow)</tspan></text>
<text y="42" font-size="16.5" class="k"><tspan x="77.0" textLength="22.22" lengthAdjust="spacingAndGlyphs">45</tspan></text>
<text y="92.5" font-size="16.5" class="k"><tspan x="76.0" textLength="23.39" lengthAdjust="spacingAndGlyphs">50</tspan></text>
<text y="147.5" font-size="16.5" class="k"><tspan x="76.0" textLength="23.39" lengthAdjust="spacingAndGlyphs">55</tspan></text>
<text y="203" font-size="16.5" class="k"><tspan x="77.0" textLength="22.22" lengthAdjust="spacingAndGlyphs">60</tspan></text>
<text y="313" font-size="16.5" class="k"><tspan x="77.0" textLength="22.22" lengthAdjust="spacingAndGlyphs">70</tspan></text>
<text y="417" font-size="16.5" class="k"><tspan x="77.0" textLength="22.22" lengthAdjust="spacingAndGlyphs">80</tspan></text>
<text y="440.5" font-size="16.5" class="k"><tspan x="213.5" textLength="49.68" lengthAdjust="spacingAndGlyphs">10:04</tspan></text>
<text y="440.5" font-size="16.5" class="k"><tspan x="348.0" textLength="50.2" lengthAdjust="spacingAndGlyphs">10:08</tspan></text>
<text y="440.5" font-size="16.5" class="k"><tspan x="483.0" textLength="49.76" lengthAdjust="spacingAndGlyphs">10:12</tspan></text>
<text y="460.5" font-size="16.5"><tspan x="205.0" textLength="42.08" lengthAdjust="spacingAndGlyphs">Start</tspan> <tspan x="254.5" textLength="41.14" lengthAdjust="spacingAndGlyphs">Time</tspan> <tspan x="303.5" textLength="109.58" lengthAdjust="spacingAndGlyphs">(03-Feb-20</tspan> <tspan x="424.0" textLength="82.12" lengthAdjust="spacingAndGlyphs">10:00:00)</tspan></text>
<text transform="rotate(-90)" y="62" font-size="16.5" class="y"><tspan x="-294.0" textLength="84.12" lengthAdjust="spacingAndGlyphs">Frequency</tspan> <tspan x="-201.0" textLength="48.16" lengthAdjust="spacingAndGlyphs">[MHz]</tspan></text>
<text y="479" font-size="9.6" class="s"><tspan x="1.0" textLength="38.12" lengthAdjust="spacingAndGlyphs">Updated</tspan> <tspan x="44.0" textLength="17.0" lengthAdjust="spacingAndGlyphs">Wed</tspan> <tspan x="67.0" textLength="15.0" lengthAdjust="spacingAndGlyphs">Feb</tspan> <tspan x="87.5" textLength="11.11" lengthAdjust="spacingAndGlyphs">12</tspan> <tspan x="104.0" textLength="40.0" lengthAdjust="spacingAndGlyphs">07:30:19</tspan> <tspan x="150.0" textLength="22.0" lengthAdjust="spacingAndGlyphs">2020</tspan></text>
</svg></body></html>
